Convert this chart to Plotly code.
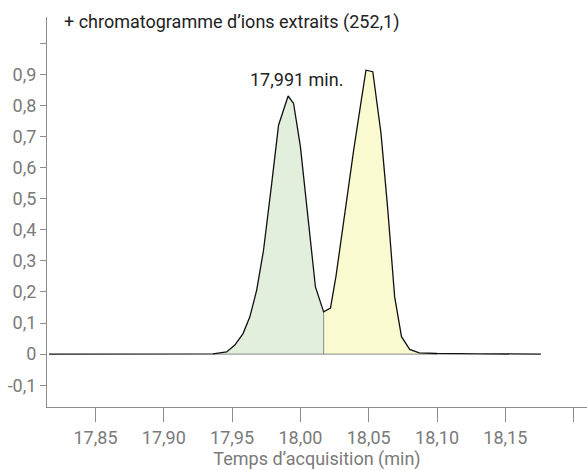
import numpy as np
import plotly.graph_objects as go

# --- data ---
times = [17.816, 17.85, 17.90, 17.93, 17.936, 17.946, 17.952, 17.958, 17.963,
         17.968, 17.973, 17.979, 17.984, 17.991, 17.995, 18.000, 18.005, 18.011,
         18.017, 18.022, 18.026, 18.031, 18.039, 18.044, 18.048, 18.053, 18.059,
         18.064, 18.069, 18.074, 18.080, 18.087, 18.10, 18.13, 18.176]
intensity = [0.0, 0.0, 0.0, 0.0, 0.001, 0.007, 0.029, 0.066, 0.12,
             0.206, 0.334, 0.549, 0.736, 0.83, 0.806, 0.667, 0.463, 0.216,
             0.136, 0.148, 0.249, 0.409, 0.656, 0.80, 0.913, 0.908, 0.71,
             0.463, 0.184, 0.056, 0.015, 0.004, 0.002, 0.001, 0.0]
peak1_range = [17.936, 18.017]
peak2_range = [18.017, 18.10]
apex_time = 17.991

x_ticks = [17.85, 17.90, 17.95, 18.00, 18.05, 18.10, 18.15, 18.20]
x_ticklabels = ["17,85", "17,90", "17,95", "18,00", "18,05", "18,10", "18,15", ""]
y_ticks = [-0.1, 0, 0.1, 0.2, 0.3, 0.4, 0.5, 0.6, 0.7, 0.8, 0.9, 1.0]
y_ticklabels = ["-0,1", "0", "0,1", "0,2", "0,3", "0,4", "0,5", "0,6", "0,7", "0,8", "0,9", ""]

title_text = "+ chromatogramme d’ions extraits (252,1)"
x_title = "Temps d’acquisition (min)"

t = np.array(times)
y = np.array(intensity)

FONT = "Roboto"
FS = 18
GRAY = "#7a7a7a"
AXIS = "#8c8c8c"

fig = go.Figure()

m1 = (t >= peak1_range[0] - 1e-9) & (t <= peak1_range[1] + 1e-9)
m2 = (t >= peak2_range[0] - 1e-9) & (t <= peak2_range[1] + 1e-9)
fig.add_trace(go.Scatter(x=t[m1], y=y[m1], fill="tozeroy", mode="lines",
                         line=dict(width=0), fillcolor="#e2efdc", hoverinfo="skip"))
fig.add_trace(go.Scatter(x=t[m2], y=y[m2], fill="tozeroy", mode="lines",
                         line=dict(width=0), fillcolor="#fafad0", hoverinfo="skip"))

# split marker line
split_val = float(np.interp(peak1_range[1], t, y))
fig.add_trace(go.Scatter(x=[peak1_range[1], peak1_range[1]], y=[0, split_val], mode="lines",
                         line=dict(color="#8a8a8a", width=1), hoverinfo="skip"))
# fill base line
fig.add_trace(go.Scatter(x=[peak1_range[0], peak2_range[1]], y=[0, 0], mode="lines",
                         line=dict(color="#8a8a8a", width=1), hoverinfo="skip"))

# chromatogram line
fig.add_trace(go.Scatter(x=t, y=y, mode="lines", line=dict(color="#111111", width=1.3)))

apex_val = float(np.interp(apex_time, t, y))
fig.add_annotation(x=apex_time, y=apex_val, text=f"{apex_time:.3f}".replace(".", ",") + " min.",
                   showarrow=False, yanchor="bottom", xshift=8, yshift=4,
                   font=dict(family=FONT, size=FS, color="#222222"))

fig.add_annotation(xref="paper", yref="paper", x=0.028, y=1.0, xanchor="left", yanchor="middle",
                   text=title_text, showarrow=False,
                   font=dict(family=FONT, size=FS, color="#222222"), yshift=-5)

fig.update_layout(
    width=587, height=470,
    margin=dict(l=47, r=0, t=17, b=63),
    paper_bgcolor="white", plot_bgcolor="white",
    showlegend=False,
    font=dict(family=FONT, size=FS, color=GRAY),
    xaxis=dict(range=[17.8145, 18.2098], tickvals=x_ticks, ticktext=x_ticklabels,
               showgrid=False, zeroline=False, showline=True, linecolor=AXIS, linewidth=1,
               ticks="outside", ticklen=14, tickcolor=AXIS,
               tickfont=dict(family=FONT, size=FS, color=GRAY),
               title=dict(text=x_title, font=dict(family=FONT, size=FS, color=GRAY), standoff=8)),
    yaxis=dict(range=[-0.17, 1.084], tickvals=y_ticks, ticktext=y_ticklabels,
               showgrid=False, zeroline=False, showline=True, linecolor=AXIS, linewidth=1,
               ticks="outside", ticklen=6, tickcolor=AXIS,
               tickfont=dict(family=FONT, size=FS, color=GRAY)),
)

fig.write_html("out.html")
